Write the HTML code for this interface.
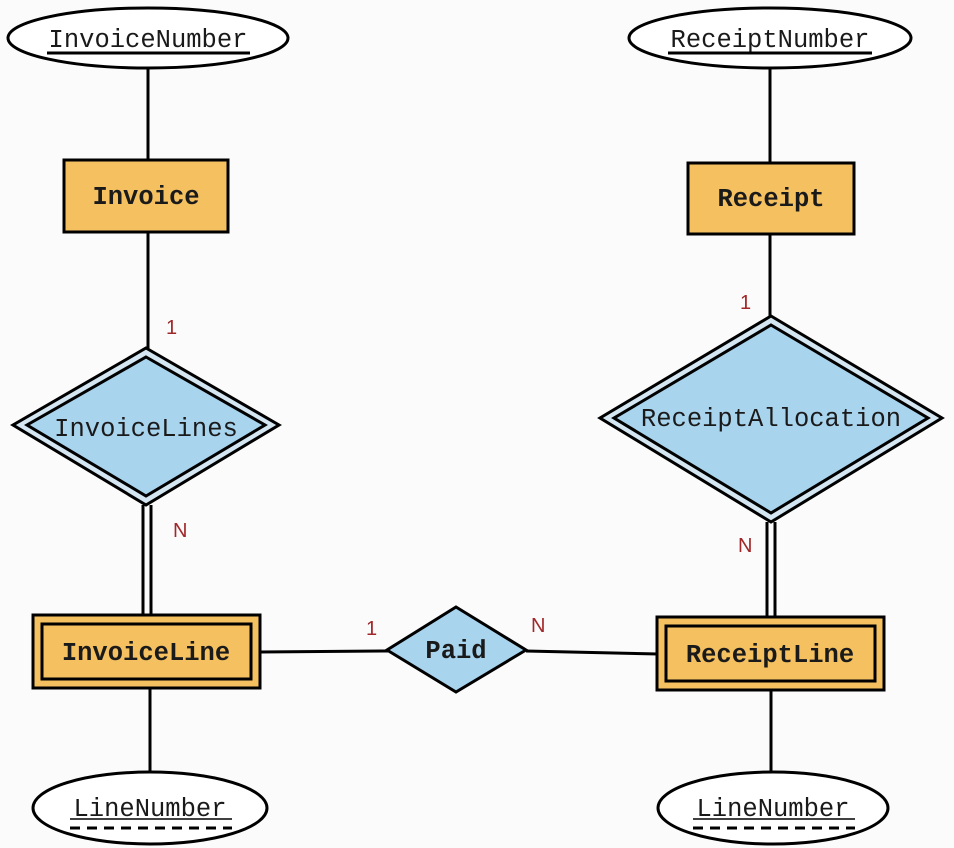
<!DOCTYPE html>
<html><head><meta charset="utf-8"><style>
html,body{margin:0;padding:0;background:#fbfbfb;}
svg{display:block}
text{font-family:"Liberation Mono","DejaVu Sans Mono",monospace;font-size:25.5px;fill:#1a1a1a}
.b{font-weight:bold}
.r{font-family:"Liberation Sans",sans-serif;font-size:20px;fill:#a0282a}
</style></head><body>
<svg width="954" height="848" viewBox="0 0 954 848" xmlns="http://www.w3.org/2000/svg">
<g stroke="#000" stroke-width="3" fill="none">
<!-- connectors -->
<line x1="148" y1="68" x2="148" y2="160"/>
<line x1="148" y1="232" x2="148" y2="350"/>
<line x1="143" y1="505" x2="143" y2="616"/>
<line x1="151" y1="505" x2="151" y2="616"/>
<line x1="260" y1="652" x2="388" y2="651"/>
<line x1="526" y1="651" x2="658" y2="654"/>
<line x1="150" y1="688" x2="150" y2="772"/>
<line x1="770" y1="68" x2="770" y2="163"/>
<line x1="770" y1="234" x2="770" y2="318"/>
<line x1="767" y1="522" x2="767" y2="618"/>
<line x1="775" y1="522" x2="775" y2="618"/>
<line x1="771" y1="690" x2="771" y2="772"/>
</g>
<!-- ellipses -->
<g stroke="#000" stroke-width="3" fill="#fff">
<ellipse cx="148" cy="38" rx="140" ry="30"/>
<ellipse cx="770" cy="38" rx="141" ry="30"/>
<ellipse cx="150" cy="808" rx="117" ry="36"/>
<ellipse cx="773" cy="808" rx="115" ry="36"/>
</g>
<!-- entities -->
<g stroke="#000" stroke-width="3" fill="#f4c060">
<rect x="64" y="160" width="164" height="72"/>
<rect x="688" y="163" width="166" height="71"/>
<rect x="33" y="615" width="227" height="73"/>
<rect x="657" y="617" width="227" height="73"/>
</g>
<g stroke="#000" stroke-width="3" fill="none">
<rect x="42" y="624" width="209" height="55"/>
<rect x="666" y="626" width="209" height="55"/>
</g>
<!-- relationships -->
<g stroke="#000" stroke-width="3">
<polygon points="146,348 279,425 146,505 13,425" fill="#d4e6f1"/>
<polygon points="146,357 265,425 146,496 27,425" fill="#a9d4ee"/>
<polygon points="771,316 942,418 771,522 600,418" fill="#d4e6f1"/>
<polygon points="771,325 928,418 771,513 614,418" fill="#a9d4ee"/>
<polygon points="456,607 526,650 456,692 387,650" fill="#a9d4ee"/>
</g>
<!-- labels -->
<text x="148" y="47" text-anchor="middle">InvoiceNumber</text>
<line x1="47" y1="53" x2="250" y2="53" stroke="#000" stroke-width="3"/>
<text x="770" y="47" text-anchor="middle">ReceiptNumber</text>
<line x1="668" y1="53" x2="872" y2="53" stroke="#000" stroke-width="3"/>
<text x="150" y="816" text-anchor="middle">LineNumber</text>
<line x1="70" y1="819" x2="232" y2="819" stroke="#000" stroke-width="1.5"/>
<line x1="70" y1="828" x2="232" y2="828" stroke="#000" stroke-width="3" stroke-dasharray="10,7"/>
<text x="773" y="816" text-anchor="middle">LineNumber</text>
<line x1="693" y1="819" x2="855" y2="819" stroke="#000" stroke-width="1.5"/>
<line x1="693" y1="828" x2="855" y2="828" stroke="#000" stroke-width="3" stroke-dasharray="10,7"/>
<text class="b" x="146" y="204" text-anchor="middle">Invoice</text>
<text class="b" x="771" y="206" text-anchor="middle">Receipt</text>
<text class="b" x="146" y="660" text-anchor="middle">InvoiceLine</text>
<text class="b" x="770" y="662" text-anchor="middle">ReceiptLine</text>
<text x="146" y="436" text-anchor="middle">InvoiceLines</text>
<text x="771" y="426" text-anchor="middle">ReceiptAllocation</text>
<text class="b" x="456" y="658" text-anchor="middle">Paid</text>
<text class="r" x="166" y="334">1</text>
<text class="r" x="173" y="537">N</text>
<text class="r" x="366" y="635">1</text>
<text class="r" x="531" y="632">N</text>
<text class="r" x="740" y="309">1</text>
<text class="r" x="738" y="552">N</text>
</svg>
</body></html>
